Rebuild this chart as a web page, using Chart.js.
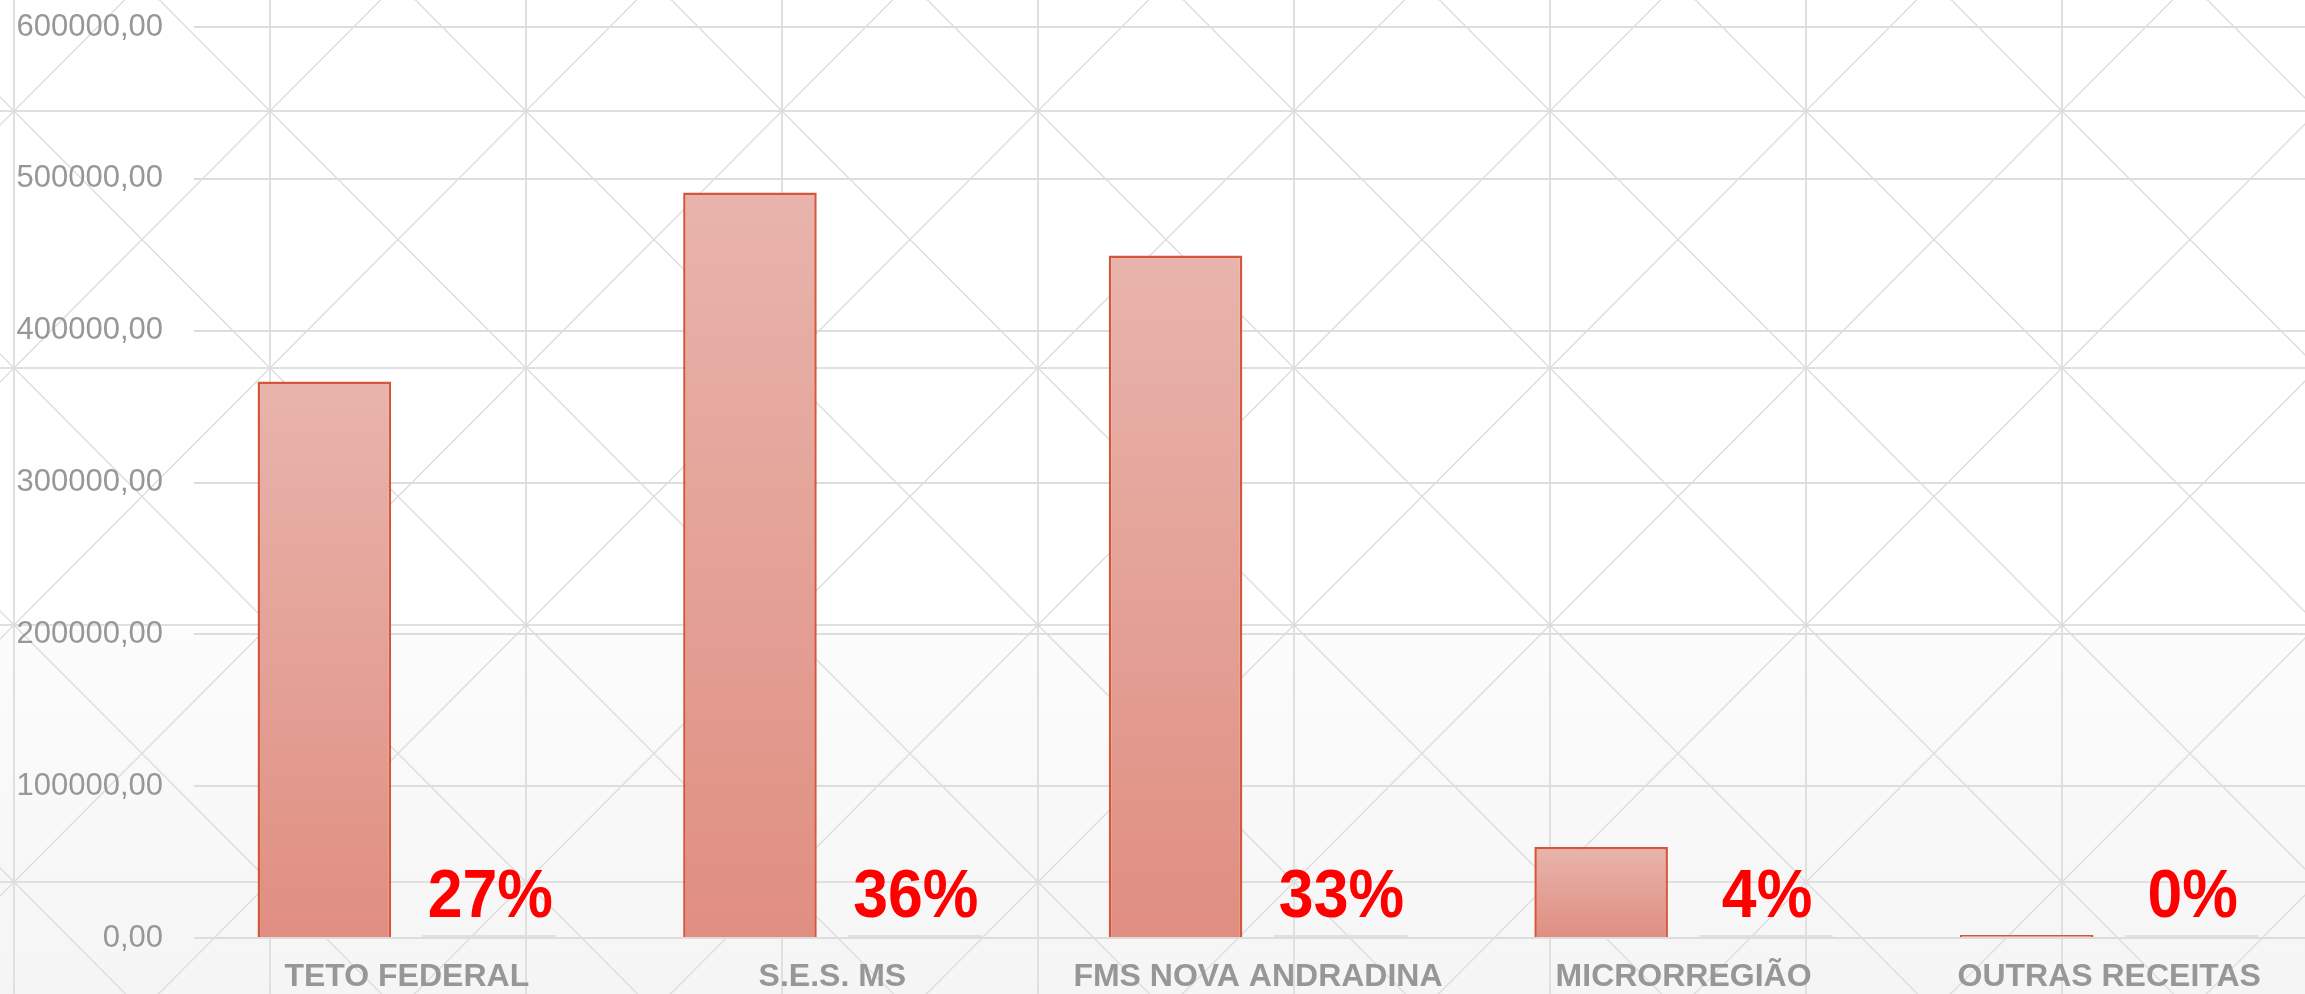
<!DOCTYPE html>
<html><head><meta charset="utf-8">
<script src="https://cdn.jsdelivr.net/npm/chart.js@4.4.0/dist/chart.umd.min.js"></script>
<style>html,body{margin:0;padding:0;overflow:hidden;background:#fff;} canvas{display:block;}</style>
</head><body>
<canvas id="c" width="2323" height="994"></canvas>
<script>
const categories = ['TETO FEDERAL', 'S.E.S. MS', 'FMS NOVA ANDRADINA', 'MICRORREGIÃO', 'OUTRAS RECEITAS'];
const values = [366500, 491000, 449500, 60000, 2000];
const percents = [27, 36, 33, 4, 0];
const yTicks = [0, 100000, 200000, 300000, 400000, 500000, 600000];
const yTickLabels = ['0,00', '100000,00', '200000,00', '300000,00', '400000,00', '500000,00', '600000,00'];

const bgPlugin = {
  id: 'bgPattern',
  beforeDraw(chart) {
    const ctx = chart.ctx, W = chart.width, H = chart.height;
    ctx.save();
    ctx.fillStyle = '#ffffff';
    ctx.fillRect(0, 0, W, H);
    const g = ctx.createLinearGradient(0, 630, 0, H);
    g.addColorStop(0, '#fcfcfc');
    g.addColorStop(1, '#f5f5f5');
    ctx.fillStyle = g;
    ctx.fillRect(0, 630, W, H - 630);
    const x0 = 14, y0 = 111, cw = 256, ch = 257;
    ctx.strokeStyle = '#e0e0e0';
    ctx.lineWidth = 2;
    ctx.beginPath();
    for (let x = x0; x < W + cw; x += cw) { ctx.moveTo(x, 0); ctx.lineTo(x, H); }
    for (let y = y0 - ch; y < H + ch; y += ch) { ctx.moveTo(0, y); ctx.lineTo(W, y); }
    ctx.stroke();
    ctx.lineWidth = 1.3;
    ctx.strokeStyle = '#dcdcdc';
    ctx.beginPath();
    for (let x = x0 - cw; x < W + cw; x += cw) {
      for (let y = y0 - ch; y < H + ch; y += ch) {
        ctx.moveTo(x, y); ctx.lineTo(x + cw, y + ch);
        ctx.moveTo(x + cw, y); ctx.lineTo(x, y + ch);
      }
    }
    ctx.stroke();
    ctx.restore();
  }
};

const pctPlugin = {
  id: 'pctLabels',
  afterDatasetsDraw(chart) {
    const meta = chart.getDatasetMeta(1);
    const ctx = chart.ctx;
    const base = chart.scales.y.getPixelForValue(0);
    meta.data.forEach((bar, i) => {
      ctx.save();
      ctx.translate(bar.x + 1, base - 21);
      ctx.scale(0.92, 1);
      ctx.font = 'bold 68px "Liberation Sans", Arial, sans-serif';
      ctx.fillStyle = '#ff0000';
      ctx.textAlign = 'center';
      ctx.textBaseline = 'alphabetic';
      ctx.fillText(percents[i] + '%', 0, 0);
      ctx.restore();
    });
  }
};

function barGradient(context) {
  const chart = context.chart;
  const { chartArea, scales } = chart;
  if (!chartArea || !scales.y) return '#e3a095';
  const v = context.raw;
  const top = scales.y.getPixelForValue(v);
  const bot = scales.y.getPixelForValue(0);
  const g = chart.ctx.createLinearGradient(0, top, 0, Math.max(bot, top + 1));
  g.addColorStop(0, '#e8b4ac');
  g.addColorStop(1, '#e08e81');
  return g;
}

new Chart(document.getElementById('c'), {
  type: 'bar',
  data: {
    labels: categories,
    datasets: [
      {
        data: values,
        backgroundColor: barGradient,
        borderColor: '#d4573c',
        borderWidth: 2.5,
        categoryPercentage: 0.775,
        barPercentage: 0.81
      },
      {
        data: percents,
        backgroundColor: '#e0e0e0',
        borderWidth: 0,
        minBarLength: 3,
        categoryPercentage: 0.775,
        barPercentage: 0.81
      }
    ]
  },
  options: {
    responsive: false,
    animation: false,
    devicePixelRatio: 1,
    layout: { padding: { top: 27, right: 1, left: 0, bottom: 0 } },
    plugins: { legend: { display: false }, tooltip: { enabled: false } },
    scales: {
      x: {
        grid: { display: false },
        border: { display: false },
        ticks: {
          color: '#979797',
          font: { family: '"Liberation Sans", Arial, sans-serif', size: 32, weight: 'bold' },
          padding: 12,
          maxRotation: 0,
          autoSkip: false
        },
        afterFit(s) { s.height = 56; s.paddingLeft = 0; s.paddingRight = 0; }
      },
      y: {
        min: 0,
        max: 600000,
        afterBuildTicks(s) { s.ticks = yTicks.map(v => ({ value: v })); },
        ticks: {
          callback: (v, i) => yTickLabels[i],
          color: '#979797',
          font: { family: '"Liberation Sans", Arial, sans-serif', size: 31 },
          padding: 31
        },
        grid: { color: '#dddddd', lineWidth: 2, drawTicks: false },
        border: { display: false },
        afterFit(s) { s.width = 194; s.paddingTop = 0; s.paddingBottom = 0; }
      }
    }
  },
  plugins: [bgPlugin, pctPlugin]
});
</script>
</body></html>
